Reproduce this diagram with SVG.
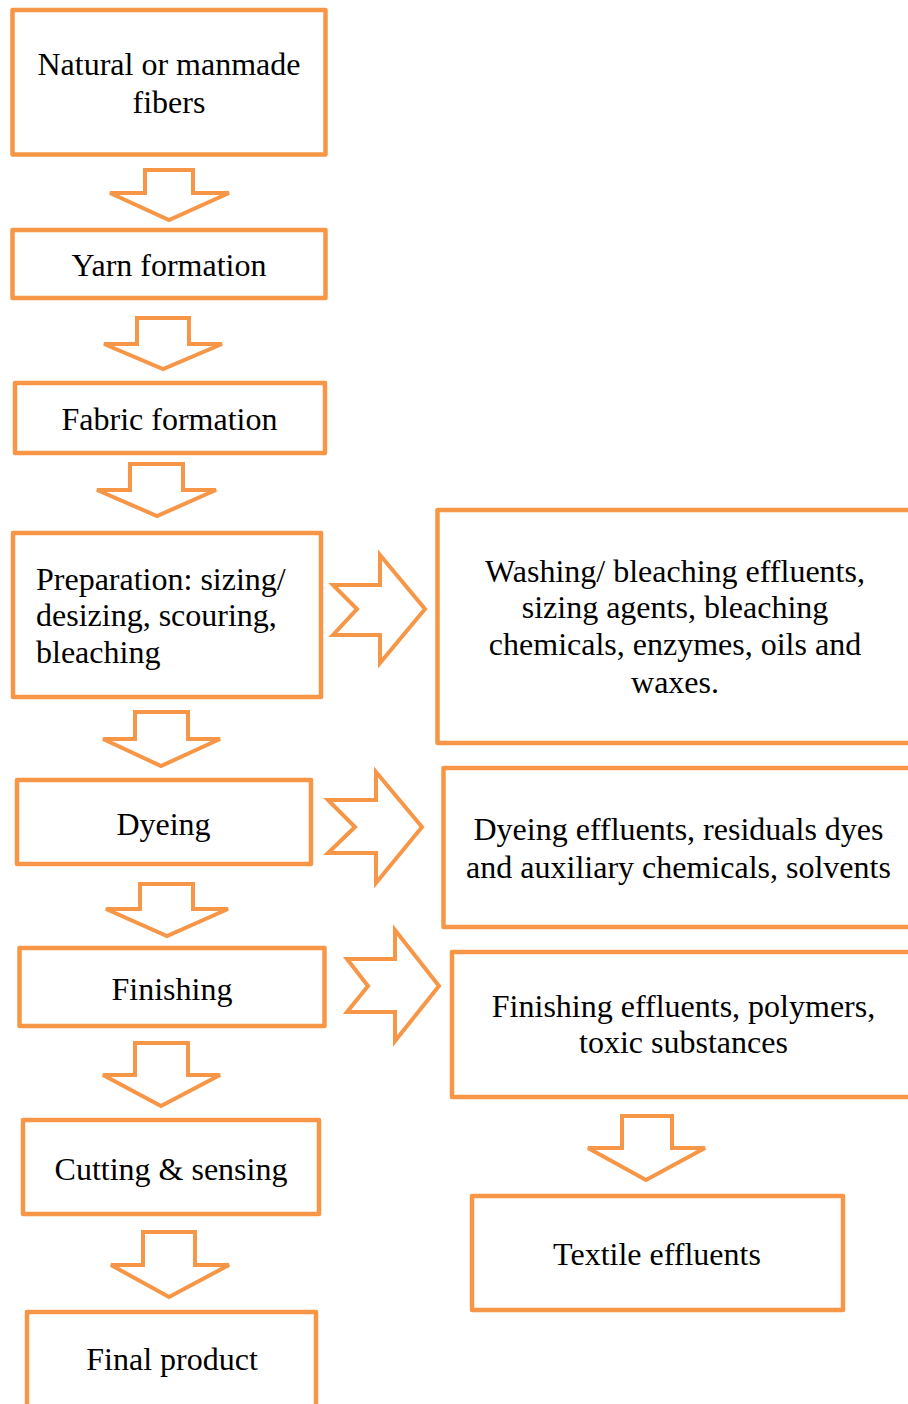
<svg xmlns="http://www.w3.org/2000/svg" width="908" height="1404" viewBox="0 0 908 1404">
<style>
.box{fill:#fff;stroke:#F79646;stroke-width:4.5;stroke-linejoin:round}
.arr{fill:#fff;stroke:#F79646;stroke-width:4;stroke-linejoin:miter}
text{font-family:"Liberation Serif","Times New Roman",serif;font-size:32px;fill:#000}
.c{text-anchor:middle}
</style>
<rect width="908" height="1404" fill="#fff"/>
<g id="connectors">
<polygon class="arr" points="145,170 193,170 193,193 229,193 169,220 110,193 145,193"/>
<polygon class="arr" points="137,318 189,318 189,344 222,344 163,369 104,344 137,344"/>
<polygon class="arr" points="130,464 183,464 183,490 216,490 157,516 97,490 130,490"/>
<polygon class="arr" points="135,712 188,712 188,739 220,739 161,766 103,739 135,739"/>
<polygon class="arr" points="140,884 193,884 193,909 228,909 167,936 106,909 140,909"/>
<polygon class="arr" points="135,1043 188,1043 188,1075 220,1075 161,1106 103,1075 135,1075"/>
<polygon class="arr" points="143,1232 195,1232 195,1265 229,1265 169,1297 111,1265 143,1265"/>
<polygon class="arr" points="622,1116 672,1116 672,1148 705,1148 646,1180 588,1148 622,1148"/>
<polygon class="arr" points="333,585 380,585 380,555 425,609 380,663 380,635 333,635 357,609"/>
<polygon class="arr" points="328,800 376,800 376,772 422,827 376,883 376,853 328,853 355,827"/>
<polygon class="arr" points="347,959 395,959 395,930 439,986 395,1041 395,1012 347,1012 368,986"/>
</g>
<g id="n1"><rect class="box" x="12.5" y="10" width="313" height="144.5"/>
<text class="c" x="169" y="75">Natural or manmade</text><text class="c" x="169" y="113">fibers</text></g>
<g id="n2"><rect class="box" x="12.5" y="230" width="313" height="68"/>
<text class="c" x="169" y="276">Yarn formation</text></g>
<g id="n3"><rect class="box" x="15" y="383" width="310" height="70"/>
<text class="c" x="169.5" y="430">Fabric formation</text></g>
<g id="n4"><rect class="box" x="13" y="533" width="308" height="164"/>
<text x="36" y="590">Preparation: sizing/</text><text x="36" y="626">desizing, scouring,</text><text x="36" y="663">bleaching</text></g>
<g id="n5"><rect class="box" x="17" y="780" width="294" height="84"/>
<text class="c" x="163.5" y="835">Dyeing</text></g>
<g id="n6"><rect class="box" x="19.5" y="948" width="305" height="78"/>
<text class="c" x="172" y="1000">Finishing</text></g>
<g id="n7"><rect class="box" x="23" y="1120" width="296" height="94"/>
<text class="c" x="171" y="1180">Cutting &amp; sensing</text></g>
<g id="n8"><rect class="box" x="27" y="1312" width="289" height="110"/>
<text class="c" x="172" y="1370">Final product</text></g>
<g id="r1"><rect class="box" x="437.5" y="510" width="490" height="233"/>
<text class="c" x="675" y="582">Washing/ bleaching effluents,</text><text class="c" x="675" y="618">sizing agents, bleaching</text><text class="c" x="675" y="655">chemicals, enzymes, oils and</text><text class="c" x="675" y="693">waxes.</text></g>
<g id="r2"><rect class="box" x="443.5" y="768" width="490" height="159"/>
<text class="c" x="678.5" y="840">Dyeing effluents, residuals dyes</text><text class="c" x="678.5" y="878">and auxiliary chemicals, solvents</text></g>
<g id="r3"><rect class="box" x="452" y="952" width="490" height="145"/>
<text class="c" x="683.5" y="1017">Finishing effluents, polymers,</text><text class="c" x="683.5" y="1053">toxic substances</text></g>
<g id="r4"><rect class="box" x="472" y="1196" width="371" height="114"/>
<text class="c" x="657" y="1265">Textile effluents</text></g>
</svg>
